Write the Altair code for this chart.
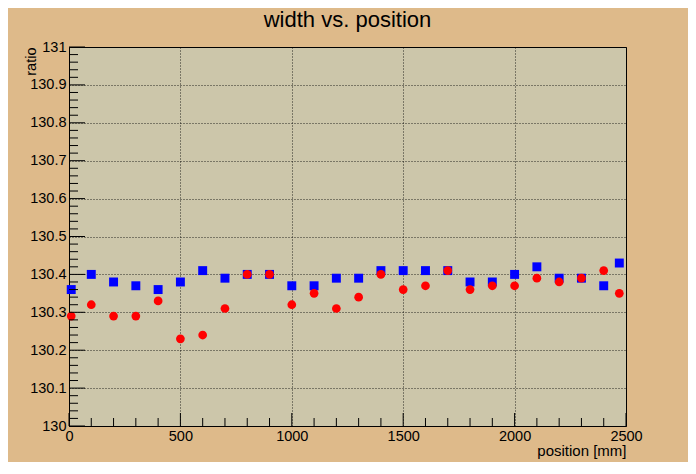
import altair as alt
import pandas as pd

# ---- data ----
positions = [10, 100, 200, 300, 400, 500, 600, 700, 800, 900, 1000, 1100, 1200,
             1300, 1400, 1500, 1600, 1700, 1800, 1900, 2000, 2100, 2200, 2300, 2400, 2470]
blue_ratio = [130.36, 130.40, 130.38, 130.37, 130.36, 130.38, 130.41, 130.39, 130.40, 130.40,
              130.37, 130.37, 130.39, 130.39, 130.41, 130.41, 130.41, 130.41, 130.38, 130.38,
              130.40, 130.42, 130.39, 130.39, 130.37, 130.43]
red_ratio = [130.29, 130.32, 130.29, 130.29, 130.33, 130.23, 130.24, 130.31, 130.40, 130.40,
             130.32, 130.35, 130.31, 130.34, 130.40, 130.36, 130.37, 130.41, 130.36, 130.37,
             130.37, 130.39, 130.38, 130.39, 130.41, 130.35]

# axis tick values
x_major = [0, 500, 1000, 1500, 2000, 2500]
x_minor = [v for v in range(0, 2501, 100) if v % 500 != 0]
y_major = [130.0, 130.1, 130.2, 130.3, 130.4, 130.5, 130.6, 130.7, 130.8, 130.9, 131.0]
y_minor = [round(130 + i * 0.02, 2) for i in range(51) if i % 5 != 0]

W, H = 557, 379
FONT = "Liberation Sans"

x_scale = alt.Scale(domain=[0, 2500], nice=False, zero=False)
y_scale = alt.Scale(domain=[130, 131], nice=False, zero=False)

df = pd.DataFrame({"position": positions, "blue": blue_ratio, "red": red_ratio})

x_axis = alt.Axis(values=x_major, format="d", grid=True, ticks=False, tickSize=0, domain=False,
                  labelPadding=3, labelFontSize=14.5, labelFlush=False, labelOverlap=False,
                  labelFont=FONT, labelColor="black",
                  title="position [mm]", titleX=W, titleY=29, titleAlign="right",
                  titleAnchor="end", titleBaseline="alphabetic", titleFontSize=15,
                  titleFontWeight="normal", titleFont=FONT, titleColor="black")
y_axis = alt.Axis(values=y_major, format=".1~f", grid=True, ticks=False, tickSize=0,
                  domain=False, labelPadding=3, labelFontSize=14.5, labelFlush=False,
                  labelOverlap=False, labelFont=FONT, labelColor="black",
                  title="ratio", titleAngle=270, titleX=-34, titleY=0, titleAlign="right",
                  titleAnchor="end", titleBaseline="alphabetic", titleFontSize=14.5,
                  titleFontWeight="normal", titleFont=FONT, titleColor="black")

X = lambda f: alt.X(f, scale=x_scale, axis=x_axis, title="position [mm]")
Y = lambda f: alt.Y(f, scale=y_scale, axis=y_axis, title="ratio")

base = alt.Chart(df)
blue_pts = base.mark_point(shape="square", filled=True, size=80, color="#0000ff",
                           opacity=1).encode(x=X("position:Q"), y=Y("blue:Q"))
red_pts = base.mark_point(shape="circle", filled=True, size=76, color="#ff0000",
                          opacity=1).encode(x=X("position:Q"), y=Y("red:Q"))


def xticks(vals, length):
    return alt.Chart(pd.DataFrame({"v": vals})).mark_rule(color="black", strokeWidth=1).encode(
        x=X("v:Q"), y=alt.value(H), y2=alt.value(H - length))


def yticks(vals, length):
    return alt.Chart(pd.DataFrame({"v": vals})).mark_rule(color="black", strokeWidth=1).encode(
        y=Y("v:Q"), x=alt.value(0), x2=alt.value(length))


chart = alt.layer(
    blue_pts, red_pts,
    xticks(x_major, 13), xticks(x_minor, 8),
    yticks(y_major, 16), yticks(y_minor, 9),
).properties(
    width=W, height=H,
    autosize="none",
    padding={"left": 61, "top": 39, "right": 62, "bottom": 36},
    title=alt.Title("width vs. position", fontSize=22, fontWeight="normal", font=FONT,
                    color="black", anchor="middle", offset=7),
).configure(
    background="#DEBA8A",
).configure_view(
    fill="#CCC6AA", stroke="black", strokeWidth=1,
).configure_axis(
    gridColor="black", gridDash=[1, 2], gridWidth=1, gridOpacity=0.8,
)

chart.save("out.html", embed_options={"renderer": "svg", "actions": False})
